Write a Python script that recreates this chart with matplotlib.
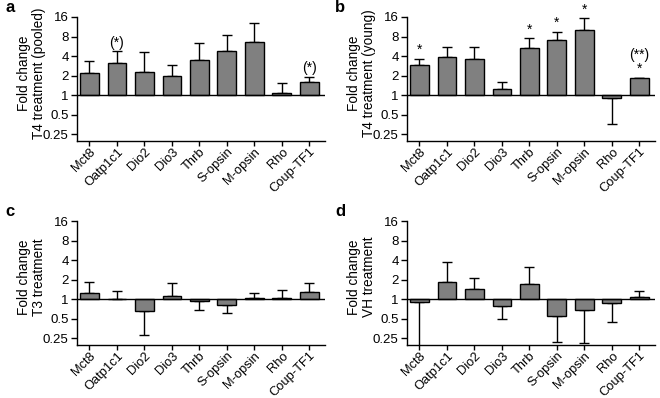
import numpy as np
import matplotlib
matplotlib.use("Agg")
import matplotlib.pyplot as plt
from matplotlib.ticker import FixedLocator, NullLocator

plt.rcParams['font.family'] = ['Liberation Sans', 'DejaVu Sans']

genes = ["Mct8", "Oatp1c1", "Dio2", "Dio3", "Thrb", "S-opsin", "M-opsin", "Rho", "Coup-TF1"]

# bar values (fold change) and end of error bar for each panel
a_vals = [2.16, 3.12, 2.27, 1.94, 3.51, 4.78, 6.58, 1.07, 1.57]
a_errs = [3.39, 4.78, 4.56, 2.94, 6.42, 8.53, 12.9, 1.53, 1.92]
b_vals = [2.95, 3.81, 3.56, 1.25, 5.24, 7.11, 10.0, 0.91, 1.80]
b_errs = [3.64, 5.56, 5.56, 1.60, 7.46, 9.53, 15.6, 0.356, 1.86]
c_vals = [1.24, 1.01, 0.65, 1.10, 0.93, 0.81, 1.02, 1.02, 1.27]
c_errs = [1.83, 1.33, 0.28, 1.74, 0.67, 0.61, 1.22, 1.37, 1.74]
d_vals = [0.89, 1.83, 1.42, 0.79, 1.70, 0.55, 0.68, 0.87, 1.07]
d_errs = [0.15, 3.79, 2.13, 0.49, 3.07, 0.218, 0.21, 0.44, 1.33]

a_marks = ["", "(*)", "", "", "", "", "", "", "(*)"]
b_marks = ["*", "", "", "", "*", "*", "*", "", "(**)\n*"]

ylabels = ["Fold change\nT4 treatment (pooled)", "Fold change\nT4 treatment (young)",
           "Fold change\nT3 treatment", "Fold change\nVH treatment"]
letters = ["a", "b", "c", "d"]

W, H = 660, 398
fig = plt.figure(figsize=(W / 100, H / 100), dpi=100)
boxes = [(77, 17), (407, 17), (77, 221), (407, 221)]
panels = [(a_vals, a_errs, a_marks), (b_vals, b_errs, b_marks),
          (c_vals, c_errs, None), (d_vals, d_errs, None)]

for i, ((x0, y0), (vals, errs, marks)) in enumerate(zip(boxes, panels)):
    ax = fig.add_axes([x0 / W, 1 - (y0 + 124) / H, 248 / W, 124 / H])
    ax.set_yscale("log")
    x = np.arange(len(genes))
    vals = np.array(vals)
    errs = np.array(errs)
    ax.bar(x, vals - 1, bottom=1, width=0.68, color="#808080",
           edgecolor="black", linewidth=1, zorder=2)
    lo = np.where(vals < 1, vals - errs, 0)
    hi = np.where(vals >= 1, errs - vals, 0)
    ax.errorbar(x, vals, yerr=[lo, hi], fmt="none", ecolor="black",
                elinewidth=1, capsize=3.5, capthick=1, zorder=1)
    ax.axhline(1, color="black", lw=1, zorder=3)
    ax.set_ylim(0.195, 16)
    ax.set_xlim(-0.45, 8.57)
    ticks = [0.25, 0.5, 1, 2, 4, 8, 16]
    ax.yaxis.set_major_locator(FixedLocator(ticks))
    ax.yaxis.set_minor_locator(NullLocator())
    ax.set_yticklabels(["0.25", "0.5", "1", "2", "4", "8", "16"], fontsize=9.5)
    ax.set_xticks(x)
    ax.set_xticklabels(genes, rotation=45, ha="right", rotation_mode="anchor", fontsize=9.3)
    ax.tick_params(length=4, width=1, pad=2)
    ax.tick_params(axis="x", pad=0, length=3.5)
    for s in ["top", "right"]:
        ax.spines[s].set_visible(False)
    for s in ["left", "bottom"]:
        ax.spines[s].set_linewidth(1)
    ax.set_ylabel(ylabels[i], fontsize=9.8, linespacing=1.1)
    ax.yaxis.set_label_coords(-0.125, 0.55)
    if marks is not None:
        for xi, e, m in zip(x, errs, marks):
            if m:
                ax.annotate(m, (xi, max(e, 1)), xytext=(0, 1), textcoords="offset points",
                            ha="center", va="bottom", fontsize=10, linespacing=1.0,
                            annotation_clip=False)
    fig.text((x0 - 72) / W, 1 - (y0 - 9) / H, letters[i], fontsize=12,
             fontweight="bold", ha="left", va="center")

fig.savefig("out.png", dpi=100)
